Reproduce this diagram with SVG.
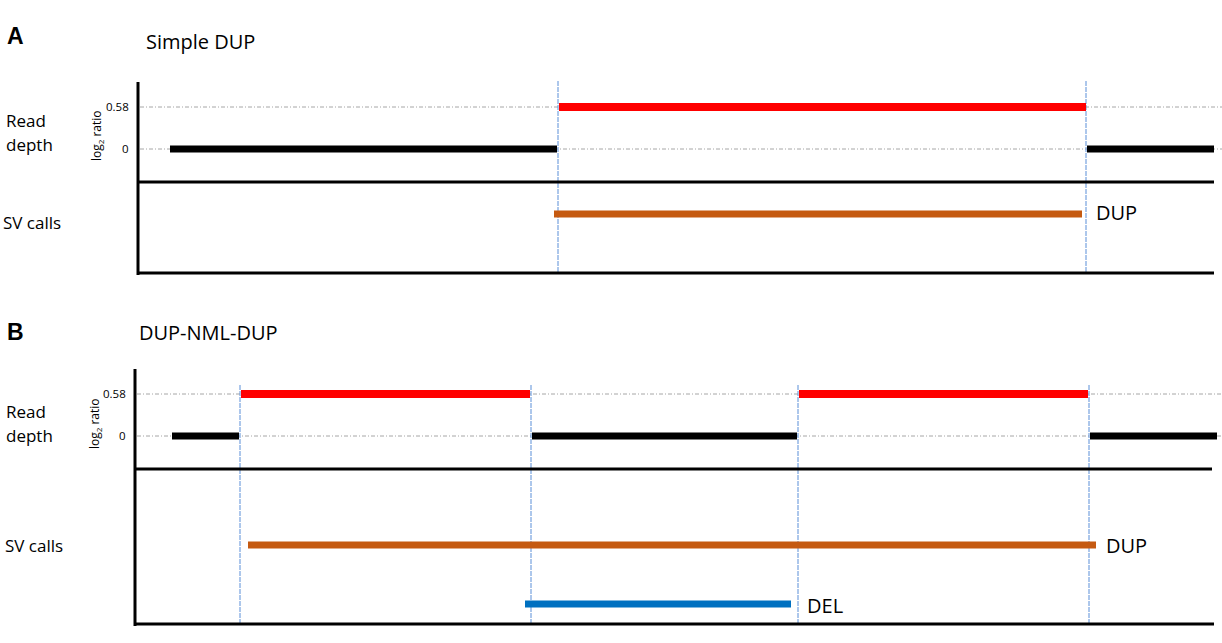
<svg xmlns="http://www.w3.org/2000/svg" width="1222" height="643" viewBox="0 0 1222 643">
<style>
.t{font-family:"Open Sans","Liberation Sans",sans-serif;fill:#000}
.lbl{font-size:17px}
.ttl{font-size:20px}
.big{font-family:"Liberation Sans",Arial,sans-serif;font-weight:bold;font-size:23px}
.sm{font-size:11.5px}
.ax{font-size:12px}
.axis{stroke:#000;stroke-width:3;fill:none}
.grid{stroke:#A6A6A6;stroke-width:1;stroke-dasharray:4 2 1 2;fill:none}
.bp{stroke:#5B8FD8;stroke-width:1;stroke-dasharray:5 1;fill:none}
.red{stroke:#FF0000;stroke-width:8}
.blk{stroke:#000;stroke-width:7}
.dup{stroke:#C55A11;stroke-width:7}
.del{stroke:#0070C0;stroke-width:7}
</style>
<rect width="1222" height="643" fill="#fff"/>

<g id="panelA">
  <text class="big" x="7" y="44">A</text>
  <text class="t ttl" x="146" y="49">Simple DUP</text>
  <text class="t lbl" x="6" y="127">Read</text>
  <text class="t lbl" x="6" y="151">depth</text>
  <text class="t lbl" x="3" y="229">SV calls</text>
  <text class="t ax" transform="translate(101,161) rotate(-90)">log<tspan font-size="8" dy="3">2</tspan><tspan dy="-3"> ratio</tspan></text>
  <text class="t sm" x="106" y="111">0.58</text>
  <text class="t sm" x="122" y="153">0</text>
</g>

<g id="panelB">
  <text class="big" x="7" y="340">B</text>
  <text class="t ttl" x="139" y="340">DUP-NML-DUP</text>
  <text class="t lbl" x="6" y="418">Read</text>
  <text class="t lbl" x="6" y="442">depth</text>
  <text class="t lbl" x="5" y="552">SV calls</text>
  <text class="t ax" transform="translate(99,449) rotate(-90)">log<tspan font-size="8" dy="3">2</tspan><tspan dy="-3"> ratio</tspan></text>
  <text class="t sm" x="103" y="398">0.58</text>
  <text class="t sm" x="119" y="440">0</text>
</g>

<g id="connectors">
  <line class="grid" x1="140" y1="107" x2="1222" y2="107"/>
  <line class="grid" x1="140" y1="149" x2="1222" y2="149"/>
  <line class="grid" x1="137" y1="394" x2="1222" y2="394"/>
  <line class="grid" x1="137" y1="436" x2="1222" y2="436"/>

  <line class="bp" x1="558" y1="81" x2="558" y2="273"/>
  <line class="bp" x1="1086" y1="81" x2="1086" y2="273"/>
  <line class="bp" x1="240" y1="385" x2="240" y2="624"/>
  <line class="bp" x1="531" y1="385" x2="531" y2="624"/>
  <line class="bp" x1="798" y1="385" x2="798" y2="624"/>
  <line class="bp" x1="1089" y1="385" x2="1089" y2="624"/>

  <line class="axis" x1="138" y1="82" x2="138" y2="275"/>
  <line class="axis" x1="137" y1="182" x2="1214" y2="182"/>
  <line class="axis" x1="137" y1="273" x2="1214" y2="273"/>
  <line class="axis" x1="135" y1="369" x2="135" y2="626"/>
  <line class="axis" x1="134" y1="469" x2="1212" y2="469"/>
  <line class="axis" x1="134" y1="624" x2="1214" y2="624"/>

  <line class="blk" x1="170" y1="149" x2="557" y2="149"/>
  <line class="red" x1="559" y1="107" x2="1086" y2="107"/>
  <line class="blk" x1="1087" y1="149" x2="1214" y2="149"/>
  <line class="dup" x1="554" y1="214" x2="1082" y2="214"/>
  <text class="t ttl" x="1096" y="220">DUP</text>

  <line class="blk" x1="172" y1="436" x2="239" y2="436"/>
  <line class="red" x1="241" y1="394" x2="530" y2="394"/>
  <line class="blk" x1="532" y1="436" x2="797" y2="436"/>
  <line class="red" x1="799" y1="394" x2="1088" y2="394"/>
  <line class="blk" x1="1090" y1="436" x2="1217" y2="436"/>
  <line class="dup" x1="248" y1="545" x2="1096" y2="545"/>
  <text class="t ttl" x="1106" y="553">DUP</text>
  <line class="del" x1="525" y1="604" x2="791" y2="604"/>
  <text class="t ttl" x="807" y="613">DEL</text>
</g>
</svg>
